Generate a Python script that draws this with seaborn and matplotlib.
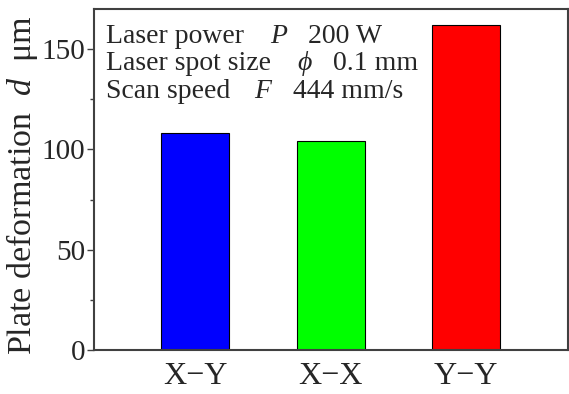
import matplotlib
matplotlib.use("Agg")
import matplotlib.pyplot as plt
import seaborn as sns
import pandas as pd
from matplotlib.ticker import MultipleLocator

categories = ["X\u2212Y", "X\u2212X", "Y\u2212Y"]
deformation = [108, 104, 162]
colors = ["#0000FF", "#00FF00", "#FF0000"]
yticks = [0, 50, 100, 150]

sns.set_theme(style="white")
plt.rcParams['font.family'] = ['Liberation Serif', 'DejaVu Serif']
plt.rcParams['mathtext.fontset'] = 'custom'
plt.rcParams['mathtext.rm'] = 'Liberation Serif'
plt.rcParams['mathtext.it'] = 'Liberation Serif:italic'
plt.rcParams['mathtext.fallback'] = 'stix'

df = pd.DataFrame({"cat": categories, "val": deformation})

fig = plt.figure(figsize=(5.69, 3.94), dpi=100)
ax = fig.add_axes([93.5/569, 1-350/394, 474.5/569, 341/394])
sns.barplot(data=df, x="cat", y="val", hue="cat", palette=colors, width=0.5,
            edgecolor="black", linewidth=0.8, legend=False, ax=ax, saturation=1)

ax.set_xlim(-0.75, 2.75)
ax.set_ylim(0, 170)
ax.set_yticks(yticks)
ax.yaxis.set_minor_locator(MultipleLocator(25))
ax.tick_params(axis='y', which='major', direction='out', length=5, width=1, color='#404040',
               labelsize=21, pad=1, left=True)
ax.tick_params(axis='y', which='minor', direction='out', length=3, width=1, color='#404040', left=True)
ax.tick_params(axis='x', length=0, labelsize=23, pad=9)
ax.set_xlabel("")
ax.set_ylabel("Plate deformation  $d$  \u03bcm", fontsize=24.5)
ax.yaxis.set_label_coords(-0.113, 0.484)
for s in ax.spines.values():
    s.set_color('#404040')
    s.set_linewidth(1.5)
    s.set_visible(True)

fs = 20
rows = [
    (0.900, "Laser power", 0.372, "$P$", 0.452, "200 W"),
    (0.821, "Laser spot size", 0.429, "$\\phi$", 0.505, "0.1 mm"),
    (0.739, "Scan speed", 0.338, "$F$", 0.420, "444 mm/s"),
]
for y, lab, xs, sym, xv, val in rows:
    ax.text(0.026, y, lab, transform=ax.transAxes, fontsize=fs, va='baseline', ha='left')
    ax.text(xs, y, sym, transform=ax.transAxes, fontsize=fs, va='baseline', ha='left')
    ax.text(xv, y, val, transform=ax.transAxes, fontsize=fs, va='baseline', ha='left')

fig.savefig("out.png", dpi=100)
